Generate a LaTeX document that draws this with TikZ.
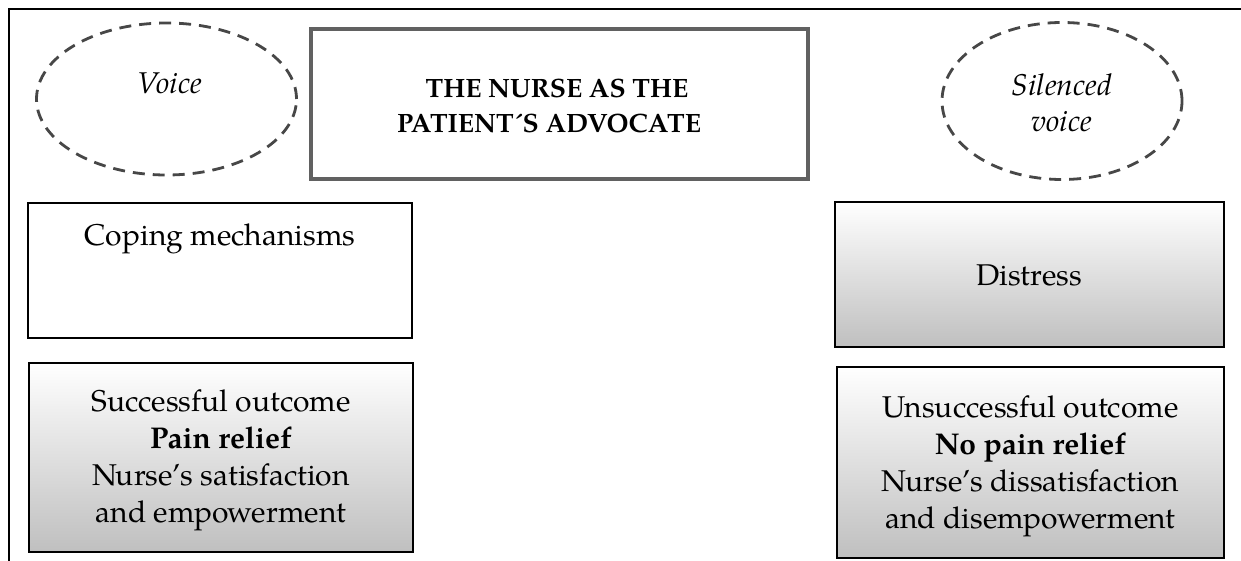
\documentclass[tikz,border=0pt]{standalone}
\usepackage{fontspec}
\setmainfont{TeX Gyre Pagella}
\usetikzlibrary{shapes.geometric}
\begin{document}
\begin{tikzpicture}[x=1pt,y=-1pt,
  txt/.style={font=\fontsize{30}{37}\selectfont, align=center, text=black, inner sep=0pt},
  dashell/.style={ellipse, draw=black!72, line width=2.8pt, dash pattern=on 12pt off 8pt, inner sep=0pt},
  titlebox/.style={draw=black!62, line width=4pt, inner sep=0pt},
  plainbox/.style={draw=black, line width=2pt, fill=white, inner sep=0pt},
  gradbox/.style={draw=black, line width=2pt, top color=white, bottom color=black!25, inner sep=0pt}
]
\useasboundingbox (0,0) rectangle (1241,561);
% outer frame lines
\coordinate (ftl) at (9,9);
\coordinate (ftr) at (1241,9);
\coordinate (fbl) at (9,561);
\draw[line width=1.5pt, black] (fbl) -- (ftl) -- (ftr);

% title box
\node[titlebox, minimum width=497pt, minimum height=150pt] (title) at (559.5,104) {};
\node[txt, font=\fontsize{26.5}{35}\selectfont\bfseries] (titletxt) at (557,106) {THE NURSE AS THE\\PATIENT´S ADVOCATE\hspace*{16pt}};

% ellipses
\node[dashell, minimum width=260pt, minimum height=152pt] (voice) at (166.5,99) {};
\node[txt, font=\fontsize{30}{36}\selectfont\itshape] (voicetxt) at (170,83) {Voice};
\node[dashell, minimum width=240pt, minimum height=157pt] (silenced) at (1062,101) {};
\node[txt, font=\fontsize{30}{36}\selectfont\itshape] (silencedtxt) at (1062,103) {Silenced\\voice};

% left boxes
\node[plainbox, minimum width=384pt, minimum height=135pt] (coping) at (220,270.5) {};
\node[txt] (copingtxt) at (220,239) {Coping mechanisms};
\node[gradbox, minimum width=384pt, minimum height=189pt] (success) at (221,457.5) {};
\node[txt] (successtxt) at (221,460) {Successful outcome\\\textbf{Pain relief}\\Nurse’s satisfaction\\and empowerment};

% right boxes
\node[gradbox, minimum width=389pt, minimum height=145pt] (distress) at (1029.5,274.5) {};
\node[txt] (distresstxt) at (1029.5,275) {Distress};
\node[gradbox, minimum width=387pt, minimum height=191pt] (unsuccess) at (1030.5,462.5) {};
\node[txt] (unsuccesstxt) at (1030.5,466) {Unsuccessful outcome\\\textbf{No pain relief}\\Nurse’s dissatisfaction\\and disempowerment};
\end{tikzpicture}
\end{document}
